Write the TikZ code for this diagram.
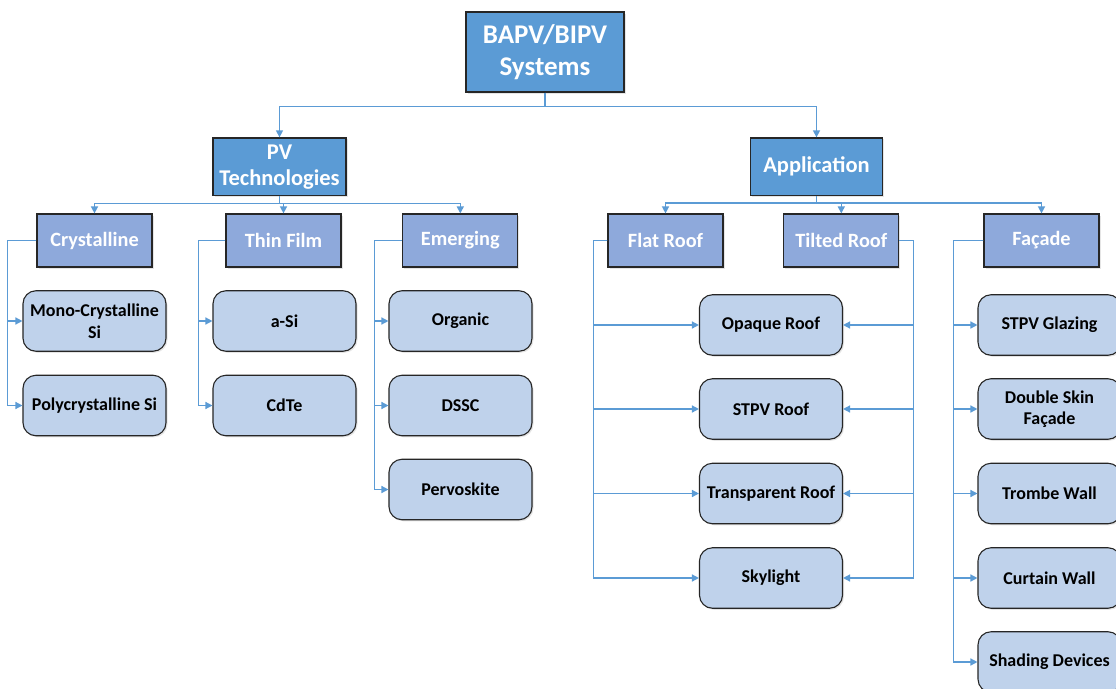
\documentclass[tikz,border=0pt]{standalone}
\usepackage{fontspec}
\setmainfont{Carlito}
\usetikzlibrary{arrows.meta,shadows}
\definecolor{topblue}{HTML}{5B9BD5}
\definecolor{midblue}{HTML}{8EA9DB}
\definecolor{leafblue}{HTML}{BFD2EB}
\definecolor{linkblue}{HTML}{5B9BD5}
\definecolor{edge}{HTML}{262626}
\tikzset{
  shad/.style={drop shadow={opacity=0.2,shadow xshift=1.5pt,shadow yshift=-1.5pt}},
  topbox/.style={draw=edge,line width=1.2pt,fill=topblue,text=white,font=\fontsize{27}{32}\selectfont\bfseries,align=center,inner sep=0pt,shad},
  lvtwo/.style={draw=edge,line width=1.2pt,fill=topblue,text=white,font=\fontsize{22.5}{26}\selectfont\bfseries,align=center,inner sep=0pt,minimum height=57.5pt,shad},
  lvthree/.style={draw=edge,line width=1.2pt,fill=midblue,text=white,font=\fontsize{20.3}{24}\selectfont\bfseries,align=center,inner sep=0pt,minimum width=115pt,minimum height=53pt,shad},
  leaf/.style={draw=edge,line width=1.1pt,fill=leafblue,text=black,rounded corners=13pt,font=\fontsize{18}{21.5}\selectfont\bfseries,align=center,inner sep=0pt,minimum width=143pt,minimum height=60.5pt,shad},
  conn/.style={draw=linkblue,line width=1.4pt,-{Triangle[length=7pt,width=7pt]}},
}
\begin{document}
\begin{tikzpicture}[x=1pt,y=-1pt]
\useasboundingbox[fill=white] (0,0) rectangle (1116,688);
% level 1
\node[topbox,minimum width=158pt,minimum height=80pt] (top) at (545,52) {BAPV/BIPV\\Systems};
% level 2
\node[lvtwo,minimum width=133pt] (pv) at (279.5,166.7) {PV\\Technologies};
\node[lvtwo,minimum width=132.7pt] (app) at (816.5,166.7) {Application};
% level 3
\node[lvthree] (cry) at (94.5,240.5) {Crystalline};
\node[lvthree] (thin) at (283.5,240.5) {Thin Film};
\node[lvthree] (emg) at (460.3,240.5) {Emerging};
\node[lvthree] (flat) at (665.5,240.5) {Flat Roof};
\node[lvthree] (tilt) at (841.3,240.5) {Tilted Roof};
\node[lvthree] (fac) at (1041.5,240.5) {Façade};
% leaves
\node[leaf] (mono) at (94.5,321) {Mono-Crystalline\\Si};
\node[leaf] (poly) at (94.5,405.5) {Polycrystalline Si};
\node[leaf] (asi) at (284.5,321) {a-Si};
\node[leaf] (cdte) at (284.5,405.5) {CdTe};
\node[leaf] (org) at (460.5,321) {Organic};
\node[leaf] (dssc) at (460.5,405.5) {DSSC};
\node[leaf] (perv) at (460.5,489.5) {Pervoskite};
\node[leaf] (opq) at (771,325) {Opaque Roof};
\node[leaf] (stpvr) at (771,409) {STPV Roof};
\node[leaf] (trans) at (771,493.5) {Transparent Roof};
\node[leaf] (sky) at (771,578) {Skylight};
\node[leaf] (glz) at (1049.5,325) {STPV Glazing};
\node[leaf] (dsf) at (1049.5,409) {Double Skin\\Façade};
\node[leaf] (trw) at (1049.5,493.5) {Trombe Wall};
\node[leaf] (cur) at (1049.5,578) {Curtain Wall};
\node[leaf] (shd) at (1049.5,662) {Shading Devices};
% connectors level 1 -> 2
\draw[conn] (top.south) -- ++(0,14) -| (pv.north);
\draw[conn] (top.south) -- ++(0,14) -| (app.north);
% level 2 -> 3
\foreach \t in {cry,thin,emg} \draw[conn] (pv.south) -- ++(0,7.5) -| (\t.north);
\foreach \t in {flat,tilt,fac} \draw[conn] (app.south) -- ++(0,7) -| (\t.north);
% level 3 -> leaves
\foreach \t in {mono,poly} \draw[conn] (cry.west) -- ++(-28.7,0) |- (\t.west);
\foreach \t in {asi,cdte} \draw[conn] (thin.west) -- ++(-27,0) |- (\t.west);
\foreach \t in {org,dssc,perv} \draw[conn] (emg.west) -- ++(-27.7,0) |- (\t.west);
\foreach \t in {opq,stpvr,trans,sky} \draw[conn] (flat.west) -- ++(-14,0) |- (\t.west);
\foreach \t in {opq,stpvr,trans,sky} \draw[conn] (tilt.east) -- ++(14,0) |- (\t.east);
\foreach \t in {glz,dsf,trw,cur,shd} \draw[conn] (fac.west) -- ++(-30,0) |- (\t.west);
\end{tikzpicture}
\end{document}
